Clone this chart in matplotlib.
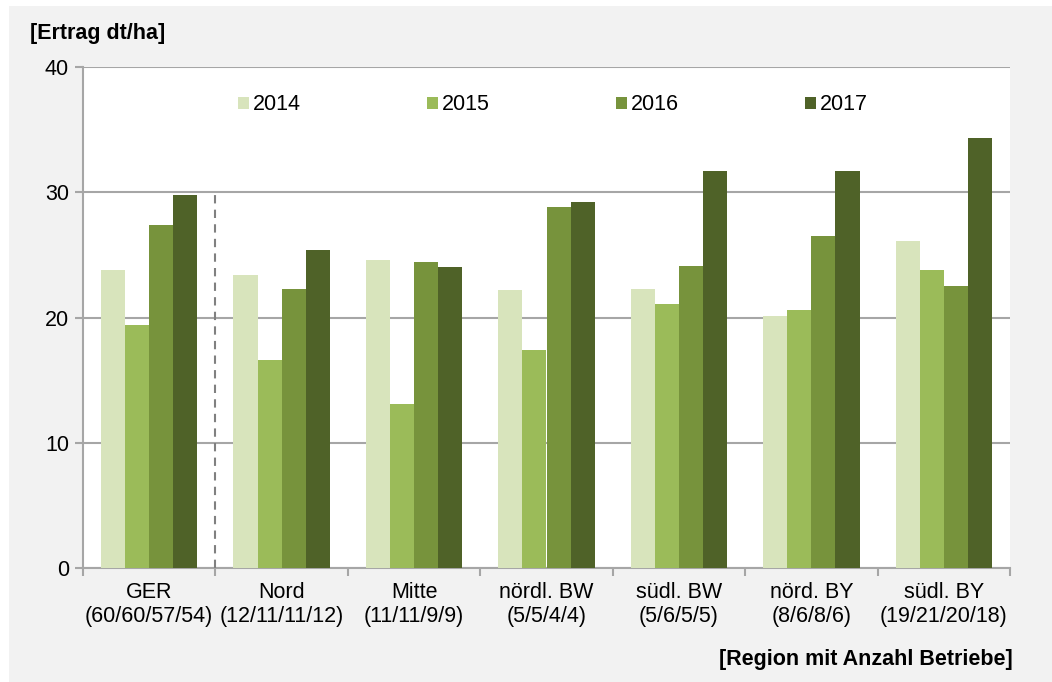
import numpy as np
import matplotlib.pyplot as plt
from matplotlib.patches import Rectangle

plt.rcParams['font.family'] = ['Liberation Sans', 'DejaVu Sans']

regions = ["GER\n(60/60/57/54)", "Nord\n(12/11/11/12)", "Mitte\n(11/11/9/9)",
           "nördl. BW\n(5/5/4/4)", "südl. BW\n(5/6/5/5)", "nörd. BY\n(8/6/8/6)",
           "südl. BY\n(19/21/20/18)"]
years = ["2014", "2015", "2016", "2017"]
y2014 = [23.8, 23.4, 24.6, 22.2, 22.3, 20.1, 26.1]
y2015 = [19.4, 16.6, 13.1, 17.4, 21.1, 20.6, 23.8]
y2016 = [27.4, 22.3, 24.4, 28.8, 24.1, 26.5, 22.5]
y2017 = [29.8, 25.4, 24.0, 29.2, 31.7, 31.7, 34.3]
colors = ["#d8e4bc", "#9bbb59", "#77933c", "#4f6228"]

fs = 15.5

fig = plt.figure(figsize=(10.52, 6.82), dpi=100, facecolor="white")
fig.patches.append(Rectangle((9/1052, 0), 1, 1 - 6/682, transform=fig.transFigure,
                             facecolor="#f2f2f2", edgecolor="none", zorder=-10))
ax = fig.add_axes([83/1052, 1 - 568/682, (1010-83)/1052, (568-67)/682])
ax.set_facecolor("white")

x = np.arange(len(regions))
w = 0.182
series = [y2014, y2015, y2016, y2017]
for i, (vals, c, yr) in enumerate(zip(series, colors, years)):
    ax.bar(x + (i - 1.5) * w, vals, w, color=c, label=yr, zorder=3)

ax.set_xlim(-0.5, len(regions) - 0.5)
ax.set_ylim(0, 40)
ax.set_yticks([0, 10, 20, 30, 40])
ax.yaxis.grid(True, color="#a6a6a6", linewidth=1.5, zorder=0)
ax.set_xticks(x)
ax.set_xticklabels(regions, fontsize=fs, linespacing=1.2)
ax.set_xticks(np.arange(-0.5, len(regions)), minor=True)
ax.tick_params(axis="x", which="major", length=0, pad=10)
ax.tick_params(axis="x", which="minor", length=6, width=1.5, color="#a6a6a6")
ax.tick_params(axis="y", length=6, width=1.5, color="#a6a6a6", labelsize=fs, pad=4)

for s in ["top", "right"]:
    ax.spines[s].set_visible(False)
for s in ["left", "bottom"]:
    ax.spines[s].set_color("#a6a6a6")
    ax.spines[s].set_linewidth(1.5)

ax.plot([0.5, 0.5], [0, 30], color="#808080", linestyle=(0, (4, 3)), linewidth=1.5, zorder=4)

ax.legend(loc="center left", bbox_to_anchor=((238-83)/927, (568-105)/501), ncol=4,
          frameon=False, fontsize=fs, handlelength=0.5, handleheight=0.5,
          handletextpad=0.2, columnspacing=5.85, borderaxespad=0, borderpad=0)

fig.text(30/1052, 1 - 33/682, "[Ertrag dt/ha]", fontsize=fs, fontweight="bold",
         va="center", ha="left")
fig.text(1013/1052, 1 - 659/682, "[Region mit Anzahl Betriebe]", fontsize=fs,
         fontweight="bold", va="center", ha="right")

fig.savefig("out.png", dpi=100, facecolor=fig.get_facecolor())
